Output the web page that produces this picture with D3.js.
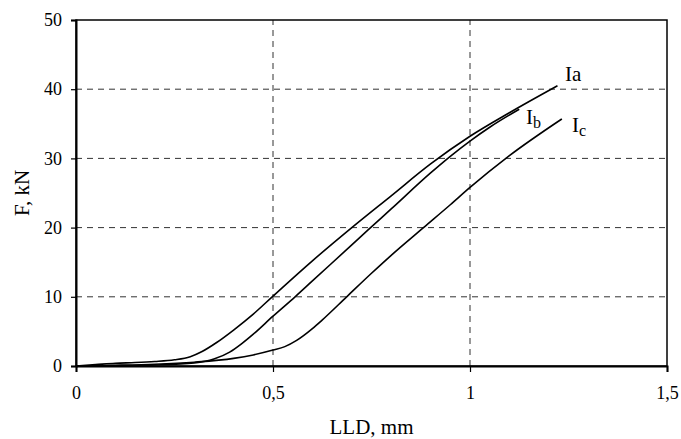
<!DOCTYPE html>
<html>
<head>
<meta charset="utf-8">
<script src="https://cdn.jsdelivr.net/npm/d3@7"></script>
<style>
  body { margin: 0; background: #fff; }
</style>
</head>
<body>
<div id="container"></div>
<script>
// data
var xTicks = [0, 0.5, 1, 1.5]
var yTicks = [0, 10, 20, 30, 40, 50]
var xTickLabels = ['0', '0,5', '1', '1,5']

var llaX = [0, 0.05, 0.1, 0.15, 0.2, 0.25, 0.29, 0.32, 0.357, 0.4, 0.45, 0.5, 0.6, 0.7, 0.8, 0.9, 1.0, 1.1, 1.222]
var llaF = [0, 0.2, 0.4, 0.5, 0.65, 0.9, 1.35, 2.1, 3.4, 5.2, 7.5, 10.1, 15.2, 20.0, 24.6, 29.2, 33.2, 36.6, 40.5]

var llbX = [0, 0.1, 0.2, 0.3, 0.35, 0.39, 0.42, 0.45, 0.5, 0.556, 0.6, 0.7, 0.742, 0.8, 0.9, 0.95, 1.0, 1.05, 1.125]
var llbF = [0, 0.05, 0.15, 0.45, 1.0, 2.0, 3.2, 4.6, 7.2, 10.0, 12.3, 17.5, 19.7, 22.7, 27.9, 30.3, 32.5, 34.5, 37.1]

var llcX = [0, 0.1, 0.2, 0.3, 0.4, 0.45, 0.5, 0.53, 0.56, 0.6, 0.624, 0.687, 0.75, 0.8, 0.882, 0.95, 1.0, 1.1, 1.233]
var llcF = [0, 0.1, 0.25, 0.55, 1.1, 1.6, 2.3, 2.8, 3.7, 5.4, 6.6, 10.0, 13.4, 16.0, 20.0, 23.3, 25.8, 30.4, 35.7]

var seriesNames = ['Ia', 'Ib', 'Ic']

var FONT = '"Liberation Serif", "Times New Roman", serif'
var width = 681, height = 439
var margin = { top: 20, right: 14, bottom: 73, left: 76 }

var svg = d3.select('#container')
  .append('svg')
  .attr('width', width)
  .attr('height', height)

var x = d3.scaleLinear().domain([0, 1.5]).range([margin.left, width - margin.right])
var y = d3.scaleLinear().domain([0, 50]).range([height - margin.bottom, margin.top])

// dashed grid
svg.append('g')
  .selectAll('line')
  .data(yTicks.slice(1, -1))
  .enter().append('line')
  .attr('x1', x(0)).attr('x2', x(1.5))
  .attr('y1', d => y(d)).attr('y2', d => y(d))
  .attr('stroke', '#333')
  .attr('stroke-dasharray', '6,5')

svg.append('g')
  .selectAll('line')
  .data(xTicks.slice(1, -1))
  .enter().append('line')
  .attr('x1', d => x(d)).attr('x2', d => x(d))
  .attr('y1', y(0)).attr('y2', y(50))
  .attr('stroke', '#333')
  .attr('stroke-dasharray', '6,5')

// frame
svg.append('rect')
  .attr('x', x(0)).attr('y', y(50))
  .attr('width', x(1.5) - x(0)).attr('height', y(0) - y(50))
  .attr('fill', 'none')
  .attr('stroke', '#000')
  .attr('stroke-width', 1.5)

// axes
svg.append('g')
  .attr('transform', 'translate(0,' + y(0) + ')')
  .call(d3.axisBottom(x).tickValues(xTicks).tickSize(6).tickPadding(14)
    .tickFormat((d, i) => xTickLabels[i]))
svg.append('g')
  .attr('transform', 'translate(' + x(0) + ',0)')
  .call(d3.axisLeft(y).tickValues(yTicks).tickSize(5).tickPadding(9))

svg.selectAll('.domain').attr('stroke', '#000').attr('stroke-width', 2)
svg.selectAll('.tick line').attr('stroke', '#000').attr('stroke-width', 1.2)
svg.selectAll('.tick text')
  .attr('fill', '#000')
  .style('font-family', FONT)
  .style('font-size', '18px')

// curves
var line = d3.line()
  .x(d => x(d[0]))
  .y(d => y(d[1]))
  .curve(d3.curveMonotoneX)

var series = [
  d3.zip(llaX, llaF),
  d3.zip(llbX, llbF),
  d3.zip(llcX, llcF)
]

svg.append('g')
  .selectAll('path')
  .data(series)
  .enter().append('path')
  .attr('d', line)
  .attr('fill', 'none')
  .attr('stroke', '#000')
  .attr('stroke-width', 1.6)

// curve labels
var labelPos = [[1.241, 41.2], [1.142, 35.0], [1.259, 33.8]]

svg.append('g')
  .selectAll('text')
  .data(seriesNames)
  .enter().append('text')
  .attr('x', (d, i) => x(labelPos[i][0]))
  .attr('y', (d, i) => y(labelPos[i][1]))
  .attr('fill', '#000')
  .style('font-family', FONT)
  .style('font-size', '21px')
  .each(function (d, i) {
    var t = d3.select(this)
    t.append('tspan').text('I')
    var s = t.append('tspan').text(d.slice(1))
    if (i > 0) s.attr('dy', 4).style('font-size', '16px')
  })

// axis titles
svg.append('text')
  .attr('x', (x(0) + x(1.5)) / 2)
  .attr('y', 434)
  .attr('text-anchor', 'middle')
  .style('font-family', FONT)
  .style('font-size', '21px')
  .text('LLD, mm')

svg.append('text')
  .attr('transform', 'translate(29,' + y(25) + ') rotate(-90)')
  .attr('text-anchor', 'middle')
  .style('font-family', FONT)
  .style('font-size', '21px')
  .text('F, kN')
</script>
</body>
</html>
